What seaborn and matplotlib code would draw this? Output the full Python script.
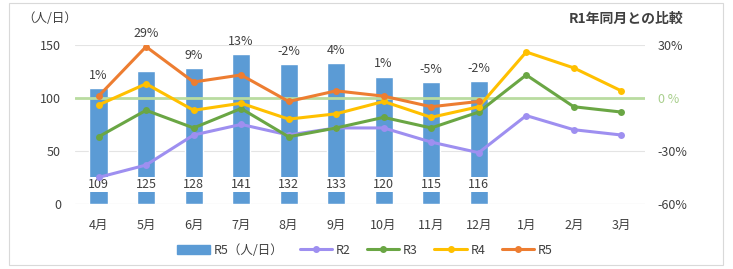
import numpy as np
import pandas as pd
import seaborn as sns
import matplotlib.pyplot as plt
from matplotlib.patches import Rectangle
from matplotlib.lines import Line2D

months = ["4月", "5月", "6月", "7月", "8月", "9月", "10月", "11月", "12月", "1月", "2月", "3月"]
r5_people = [109, 125, 128, 141, 132, 133, 120, 115, 116]
r2 = [-45, -38, -21, -15, -21, -17, -17, -25, -31, -10, -18, -21]
r3 = [-22, -7, -17, -6, -22, -17, -11, -17, -8, 13, -5, -8]
r4 = [-4, 8, -7, -3, -12, -9, -2, -11, -5, 26, 17, 4]
r5 = [1, 29, 9, 13, -2, 4, 1, -5, -2]

colors = {"R2": "#9e8ff0", "R3": "#6aa644", "R4": "#ffc000", "R5": "#ed7d31"}
bar_color = "#5b9bd5"

sns.set_style("white")
plt.rcParams["font.family"] = ["Noto Sans CJK JP", "DejaVu Sans"]

fig = plt.figure(figsize=(7.33, 2.69), dpi=100)
ax = fig.add_axes([0.102, 0.242, 0.778, 0.591])

bars = pd.DataFrame({"month": months[:len(r5_people)], "value": r5_people})
sns.barplot(data=bars, x="month", y="value", order=months, color=bar_color,
            width=0.38, saturation=1, ax=ax, zorder=2)
ax.set_xlim(-0.5, len(months) - 0.5)
ax.set_ylim(0, 150)
ax.set_yticks([0, 50, 100, 150])
ax.grid(axis="y", color="#e4e4e4", lw=0.8, zorder=0)
ax.set_axisbelow(True)
for s in ax.spines.values():
    s.set_visible(False)
ax.axhline(0, color="#d9d9d9", lw=0.8, zorder=1)
ax.set_xlabel("")
ax.set_ylabel("")
ax.tick_params(axis="y", length=0, labelsize=9, colors="#404040", pad=10)
ax.tick_params(axis="x", length=0, labelsize=9, colors="#404040", pad=11)

# value labels on bars (white box breaks the bar)
for i, v in enumerate(r5_people):
    ax.text(i, 18, str(v), ha="center", va="center", fontsize=9, color="#404040",
            bbox=dict(facecolor="white", edgecolor="none", pad=0.6), zorder=3)

ax2 = ax.twinx()
x = np.arange(len(months))
lines = pd.DataFrame({"x": x, "R2": r2, "R3": r3, "R4": r4})
for name in ["R2", "R3", "R4"]:
    sns.lineplot(x=lines["x"], y=lines[name], color=colors[name], lw=2.2,
                 marker="o", markersize=5, markeredgewidth=0, ax=ax2)
sns.lineplot(x=x[:len(r5)], y=r5, color=colors["R5"], lw=2.2,
             marker="o", markersize=5, markeredgewidth=0, ax=ax2)
ax2.axhline(0, color="#b9dca0", lw=2, zorder=0)
ax2.set_ylim(-60, 30)
ax2.set_yticks([-60, -30, 0, 30])
ax2.set_yticklabels(["-60%", "-30%", "0 %", "30%"])
for s in ax2.spines.values():
    s.set_visible(False)
ax2.set_ylabel("")
ax2.set_xlabel("")
ax2.tick_params(axis="both", length=0, labelsize=9, colors="#404040", pad=9)
ax2.get_yticklabels()[2].set_color("#a8cf8c")

# percentage labels above bar / R5 point
for i, p in enumerate(r5):
    top = max(r5_people[i], p / 0.6 + 100)
    ax.text(i, top + 6, f"{p}%", ha="center", va="bottom", fontsize=9, color="#404040")

fig.text(0.03, 0.93, "（人/日）", fontsize=9, color="#404040", va="center")
fig.text(0.932, 0.93, "R1年同月との比較", fontsize=10, color="#404040",
         va="center", ha="right", fontweight="bold")

handles = [Rectangle((0, 0), 1, 1, color=bar_color)]
labels = ["R5（人/日）"]
for name in ["R2", "R3", "R4", "R5"]:
    handles.append(Line2D([], [], color=colors[name], lw=2.2, marker="o", markersize=4))
    labels.append(name)
fig.legend(handles, labels, loc="center", bbox_to_anchor=(0.498, 0.07), ncol=5,
           frameon=False, fontsize=9, handlelength=2.6, columnspacing=1.3,
           handletextpad=0.3, labelcolor="#404040")

fig.patches.append(Rectangle((0.012, 0.015), 0.975, 0.975, transform=fig.transFigure,
                             fill=False, edgecolor="#d9d9d9", lw=0.8))

fig.savefig("out.png", dpi=100)
